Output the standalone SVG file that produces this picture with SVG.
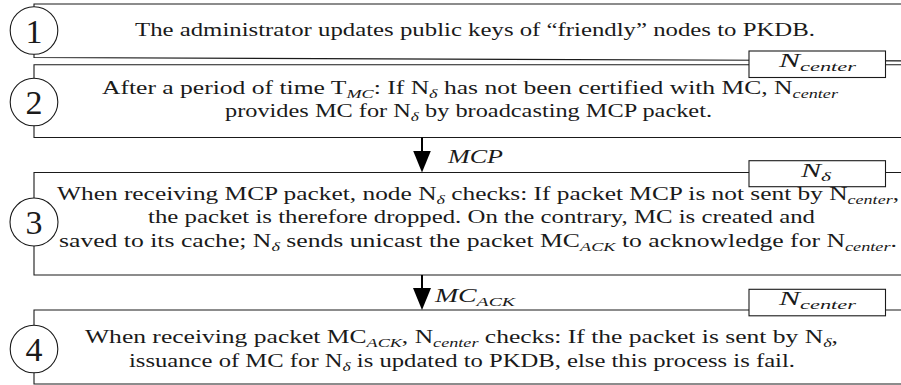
<svg xmlns="http://www.w3.org/2000/svg" width="901" height="385" viewBox="0 0 901 385">
<defs>
<style>
.t { font-family: "Liberation Serif", "DejaVu Serif", "Times New Roman", serif; font-size: 19px; fill: #1a1a1a; }
.s { font-size: 13.5px; font-style: italic; }
.i { font-style: italic; }
.ln { stroke: #1a1a1a; stroke-width: 1.1; fill: none; }
.lb { fill: #fff; stroke: #1a1a1a; stroke-width: 1.1; }
.c { fill: #fff; stroke: #1a1a1a; stroke-width: 1.1; }
.d { font-family: "Liberation Serif", "DejaVu Serif", "Times New Roman", serif; font-size: 34px; text-anchor: middle; fill: #1a1a1a; }
.ar { stroke: #000; stroke-width: 2; fill: none; }
</style>
<marker id="head" viewBox="0 0 22 18" refX="14.5" refY="9" markerWidth="22" markerHeight="18" markerUnits="userSpaceOnUse" orient="auto">
<path d="M0,0 L22,9 L0,18 z" fill="#000"/>
</marker>
</defs>
<rect width="901" height="385" fill="#fff"/>

<g id="step1">
<path class="ln" d="M940 4 H34 V57.5 L940 61"/>
<circle class="c" cx="34" cy="30.5" r="23.8"/>
<text class="d" x="34" y="43">1</text>
<text class="t" x="135" y="36" textLength="680" lengthAdjust="spacingAndGlyphs">The administrator updates public keys of “friendly” nodes to PKDB.</text>
</g>

<g id="step2">
<path class="ln" d="M940 64.8 H34 V137.5 H940"/>
<rect class="lb" x="749" y="51" width="136.5" height="26.5"/>
<text class="t" x="779" y="67" textLength="77" lengthAdjust="spacingAndGlyphs"><tspan class="i">N</tspan><tspan class="s" dy="3.5">center</tspan></text>
<circle class="c" cx="34" cy="102" r="23.8"/>
<text class="d" x="34" y="114">2</text>
<text class="t" x="102" y="94" textLength="736" lengthAdjust="spacingAndGlyphs">After a period of time T<tspan class="s" dy="3.5">MC</tspan><tspan dy="-3.5">: If N</tspan><tspan class="s" dy="3.5">δ</tspan><tspan dy="-3.5"> has not been certified with MC, N</tspan><tspan class="s" dy="3.5">center</tspan></text>
<text class="t" x="225" y="117" textLength="487" lengthAdjust="spacingAndGlyphs">provides MC for N<tspan class="s" dy="3.5">δ</tspan><tspan dy="-3.5"> by broadcasting MCP packet.</tspan></text>
</g>

<g id="step3">
<path class="ln" d="M940 172.5 H34 V275 H940"/>
<rect class="lb" x="749" y="160.7" width="136.5" height="26"/>
<text class="t" x="801" y="177" textLength="30" lengthAdjust="spacingAndGlyphs"><tspan class="i">N</tspan><tspan class="s" dy="3.5">δ</tspan></text>
<circle class="c" cx="34" cy="222" r="24"/>
<text class="d" x="34" y="234">3</text>
<text class="t" x="57" y="200" textLength="842" lengthAdjust="spacingAndGlyphs">When receiving MCP packet, node N<tspan class="s" dy="3.5">δ</tspan><tspan dy="-3.5"> checks: If packet MCP is not sent by N</tspan><tspan class="s" dy="3.5">center</tspan><tspan dy="-3.5">,</tspan></text>
<text class="t" x="148" y="223" textLength="667" lengthAdjust="spacingAndGlyphs">the packet is therefore dropped. On the contrary, MC is created and</text>
<text class="t" x="59" y="247" textLength="838" lengthAdjust="spacingAndGlyphs">saved to its cache; N<tspan class="s" dy="3.5">δ</tspan><tspan dy="-3.5"> sends unicast the packet MC</tspan><tspan class="s" dy="3.5">ACK</tspan><tspan dy="-3.5"> to acknowledge for N</tspan><tspan class="s" dy="3.5">center</tspan><tspan dy="-3.5">.</tspan></text>
</g>

<g id="step4">
<path class="ln" d="M940 310 H34 V384 H940"/>
<rect class="lb" x="749" y="289.3" width="136.5" height="26.5"/>
<text class="t" x="779" y="305" textLength="77" lengthAdjust="spacingAndGlyphs"><tspan class="i">N</tspan><tspan class="s" dy="3.5">center</tspan></text>
<circle class="c" cx="34" cy="349" r="23.8"/>
<text class="d" x="34" y="361">4</text>
<text class="t" x="85" y="343" textLength="753" lengthAdjust="spacingAndGlyphs">When receiving packet MC<tspan class="s" dy="3.5">ACK</tspan><tspan dy="-3.5">, N</tspan><tspan class="s" dy="3.5">center</tspan><tspan dy="-3.5"> checks: If the packet is sent by N</tspan><tspan class="s" dy="3.5">δ</tspan><tspan dy="-3.5">,</tspan></text>
<text class="t" x="129" y="367" textLength="666" lengthAdjust="spacingAndGlyphs">issuance of MC for N<tspan class="s" dy="3.5">δ</tspan><tspan dy="-3.5"> is updated to PKDB, else this process is fail.</tspan></text>
</g>

<g id="connectors">
<line class="ar" x1="422" y1="137.5" x2="422" y2="165" marker-end="url(#head)"/>
<text class="t i" x="448" y="163" textLength="55" lengthAdjust="spacingAndGlyphs">MCP</text>
<line class="ar" x1="422" y1="275" x2="422" y2="302.5" marker-end="url(#head)"/>
<text class="t" x="435" y="302" textLength="80" lengthAdjust="spacingAndGlyphs"><tspan class="i">MC</tspan><tspan class="s" dy="3.5">ACK</tspan></text>
</g>
</svg>
